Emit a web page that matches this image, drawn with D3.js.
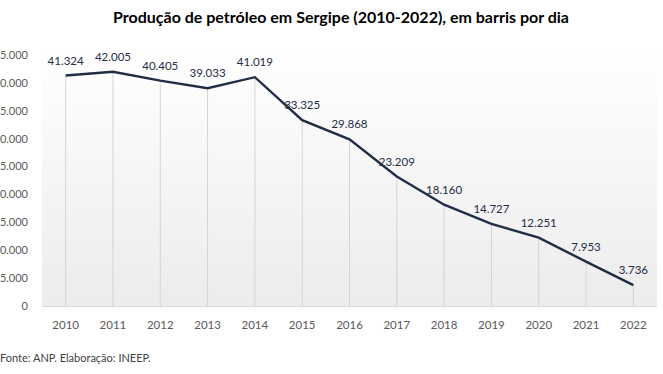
<!DOCTYPE html>
<html lang="pt">
<head>
<meta charset="UTF-8">
<title>Produção de petróleo em Sergipe</title>
<script src="https://d3js.org/d3.v7.min.js"></script>
<style>
  body { margin: 0; background: #fff; }
  text { font-family: Lato, "Open Sans", sans-serif; }
</style>
</head>
<body>
<div id="chart"></div>
<script>
// data
var years = ["2010","2011","2012","2013","2014","2015","2016","2017","2018","2019","2020","2021","2022"];
var barrels = [41324, 42005, 40405, 39033, 41019, 33325, 29868, 23209, 18160, 14727, 12251, 7953, 3736];
var yTicks = [0, 5000, 10000, 15000, 20000, 25000, 30000, 35000, 40000, 45000];

var W = 663, H = 374;
var plot = {left: 42, right: 657, top: 48, bottom: 306};

var svg = d3.select("#chart").append("svg")
    .attr("width", W)
    .attr("height", H);

// plot area gradient
var grad = svg.append("defs").append("linearGradient")
    .attr("id", "bg").attr("x1", 0).attr("y1", 0).attr("x2", 0).attr("y2", 1);
grad.append("stop").attr("offset", "0%").attr("stop-color", "#ffffff");
grad.append("stop").attr("offset", "100%").attr("stop-color", "#ececec");

svg.append("rect")
    .attr("x", plot.left)
    .attr("y", plot.top)
    .attr("width", plot.right - plot.left)
    .attr("height", plot.bottom - plot.top)
    .attr("fill", "url(#bg)");

var x = d3.scalePoint()
    .domain(years)
    .range([plot.left, plot.right])
    .padding(0.5);

var y = d3.scaleLinear()
    .domain([0, 45000])
    .range([plot.bottom, 55]);

var fmt = function(v) { return d3.format(",")(v).replace(/,/g, "."); };

// title
svg.append("text")
    .attr("x", 341)
    .attr("y", 23)
    .attr("text-anchor", "middle")
    .style("font-size", "16px")
    .style("font-weight", "bold")
    .style("fill", "#000")
    .text("Produção de petróleo em Sergipe (2010-2022), em barris por dia");

// y axis labels (cut at the left edge, as in the original)
svg.append("g").selectAll("text")
    .data(yTicks)
    .enter()
    .append("text")
    .attr("x", 28)
    .attr("y", function(d) { return y(d); })
    .attr("dy", "0.35em")
    .attr("text-anchor", "end")
    .style("font-size", "11px")
    .style("fill", "#595959")
    .text(function(d) { return fmt(d); });

// drop lines
var data = years.map(function(yr, i) { return {year: yr, value: barrels[i]}; });

svg.append("g").selectAll("line")
    .data(data)
    .enter()
    .append("line")
    .attr("x1", function(d) { return x(d.year); })
    .attr("x2", function(d) { return x(d.year); })
    .attr("y1", function(d) { return y(d.value); })
    .attr("y2", plot.bottom)
    .attr("stroke", "#d4d4d4")
    .attr("stroke-width", 1);

// baseline
svg.append("line")
    .attr("x1", plot.left).attr("x2", plot.right)
    .attr("y1", plot.bottom + 0.5).attr("y2", plot.bottom + 0.5)
    .attr("stroke", "#d9d9d9");

// x labels
svg.append("g").selectAll("text")
    .data(years)
    .enter()
    .append("text")
    .attr("x", function(d) { return x(d); })
    .attr("y", 329)
    .attr("text-anchor", "middle")
    .style("font-size", "11.5px")
    .style("fill", "#595959")
    .text(function(d) { return d; });

// the line
var line = d3.line()
    .x(function(d) { return x(d.year); })
    .y(function(d) { return y(d.value); });

svg.append("path")
    .datum(data)
    .attr("d", line)
    .attr("fill", "none")
    .attr("stroke", "#1f2d45")
    .attr("stroke-width", 2.4)
    .attr("stroke-linejoin", "miter");

// data labels
svg.append("g").selectAll("text")
    .data(data)
    .enter()
    .append("text")
    .attr("x", function(d) { return x(d.year); })
    .attr("y", function(d) { return y(d.value) - 11; })
    .attr("text-anchor", "middle")
    .style("font-size", "11.5px")
    .style("fill", "#1f2d45")
    .text(function(d) { return fmt(d.value); });

// source
svg.append("text")
    .attr("x", 0)
    .attr("y", 362)
    .style("font-size", "11px")
    .style("fill", "#404040")
    .text("Fonte: ANP. Elaboração: INEEP.");
</script>
</body>
</html>
